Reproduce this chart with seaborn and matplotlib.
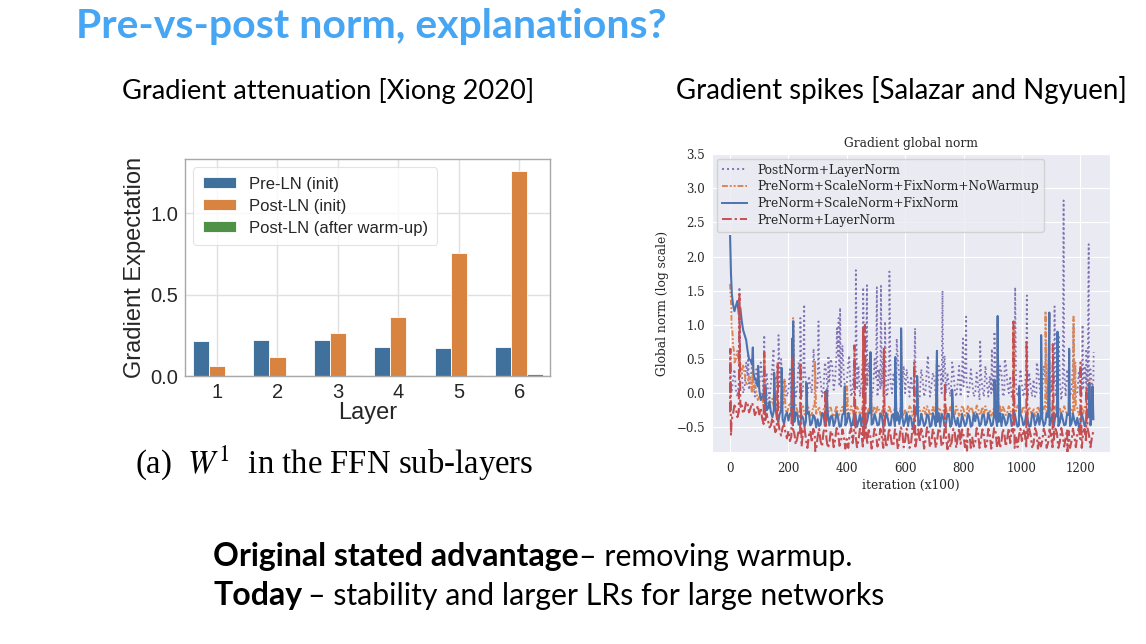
import numpy as np
import pandas as pd
import matplotlib
matplotlib.use("Agg")
import matplotlib.pyplot as plt
import seaborn as sns

# ---------------- Left chart data (Xiong 2020) ----------------
layers = ["1", "2", "3", "4", "5", "6"]
pre_ln_init = [0.217, 0.221, 0.219, 0.180, 0.172, 0.176]
post_ln_init = [0.063, 0.115, 0.264, 0.362, 0.755, 1.262]
post_ln_warm = [0.003, 0.003, 0.005, 0.005, 0.005, 0.014]
bar_series = ["Pre-LN (init)", "Post-LN (init)", "Post-LN (after warm-up)"]
bar_colors = ["#3f719c", "#d8833f", "#4f9146"]

# ---------------- Right chart data (Salazar & Nguyen) ----------------
iter_grid = list(range(0, 1250, 10))   # 0, 10, ..., 1240
mid_grid = list(range(5, 1250, 10))    # 5, 15, ..., 1245

post_ln_base = [
    0.10, 0.20, 0.05, 0.15, 0.30, 0.10, 0.25, 0.20, 0.15, 0.35,
    0.10, 0.25, -0.05, 0.05, 0.15, 0.00, 0.20, 0.10, -0.05, 0.15,
    0.05, -0.05, 0.20, 0.10, 0.30, 0.05, 0.15, 0.25, 0.00, 0.35,
    0.10, 0.20, 0.05, 0.30, 0.15, 0.40, 0.20, 0.55, 0.10, 0.25,
    0.15, 0.35, 0.05, 0.20, 0.40, 0.15, 0.30, 0.10, 0.25, 0.05,
    0.20, 0.35, 0.10, 0.25, 0.00, 0.15, 0.30, 0.05, 0.20, 0.10,
    0.00, 0.15, 0.25, 0.05, 0.10, -0.05, 0.20, 0.05, 0.30, 0.10,
    0.20, 0.05, 0.35, 0.15, 0.00, 0.10, 0.25, 0.05, 0.15, -0.05,
    0.10, 0.20, 0.05, 0.15, 0.00, 0.10, 0.30, -0.05, 0.15, 0.25,
    0.05, 0.20, 0.10, 0.30, 0.00, 0.15, 0.25, 0.05, 0.10, 0.00,
    0.15, 0.05, -0.05, 0.10, 0.20, 0.00, 0.15, 0.05, 0.25, 0.10,
    0.00, 0.15, 0.05, 0.20, 0.10, -0.05, 0.15, 0.05, 0.10, 0.00,
    0.10, 0.05, 0.15, 0.00, 0.10,
]
post_ln_mid = [
    0.00, 0.35, -0.05, 0.40, 0.00, 0.45, 0.05, 0.40, -0.05, 0.10,
    0.45, -0.05, 0.30, -0.10, 0.40, 0.25, -0.05, 0.50, 0.20, -0.05,
    0.35, 0.25, -0.05, 0.45, -0.05, 0.40, -0.05, 0.10, 0.50, 0.05,
    0.35, -0.05, 0.45, -0.05, 0.50, 0.05, 0.60, 0.10, 0.70, 0.05,
    0.45, -0.05, 0.50, 0.05, -0.05, 0.55, 0.00, 0.45, -0.05, 0.50,
    -0.05, 0.05, 0.50, -0.05, 0.45, 0.00, 0.05, 0.50, -0.05, 0.40,
    0.35, -0.05, 0.05, 0.40, -0.10, 0.35, -0.05, 0.40, -0.05, 0.30,
    -0.05, 0.40, 0.00, 0.55, 0.30, -0.05, 0.35, -0.05, 0.40, 0.30,
    0.40, -0.05, 0.35, -0.05, 0.30, -0.10, 0.05, 0.40, -0.05, 0.00,
    0.35, -0.05, 0.40, -0.05, 0.45, 0.00, -0.05, 0.50, -0.05, 0.35,
    -0.05, 0.40, 0.30, -0.05, -0.05, 0.35, -0.10, 0.40, 0.00, 0.45,
    0.40, -0.05, 0.35, -0.10, 0.30, 0.35, -0.05, 0.40, -0.05, 0.30,
    -0.05, 0.40, -0.05, 0.35, 0.15,
]
post_ln_spike_x = [32, 62, 117, 149, 166, 217, 241, 254, 286, 303, 337, 366, 372, 377,
                   408, 431, 456, 469, 503, 517, 531, 546, 571, 634, 678, 728, 761,
                   798, 809, 857, 897, 906, 941, 977, 1017, 1051, 1082, 1112, 1126,
                   1143, 1177, 1208, 1221, 1229, 1246]
post_ln_spike_y = [1.55, 0.55, 0.85, 0.65, 0.85, 1.08, 1.10, 1.30, 0.65, 1.05, 0.55, 0.95, 1.10, 1.25,
                   0.55, 1.80, 1.55, 1.58, 1.55, 1.57, 1.05, 1.78, 0.80, 0.95, 0.55, 1.50, 0.45,
                   0.80, 1.12, 0.78, 0.65, 0.90, 0.50, 1.55, 1.43, 0.45, 0.75, 1.27, 0.85,
                   2.82, 1.00, 1.00, 0.65, 2.18, 0.60]

nowarm_base = [
    1.60, 0.70, 0.50, 0.42, 0.30, 0.28, 0.15, 0.18, 0.05, 0.02,
    -0.05, -0.08, -0.10, -0.15, -0.12, -0.20, -0.17, -0.22, -0.16, -0.24,
    -0.20, -0.27, -0.22, -0.25, -0.30, -0.19, -0.27, -0.23, -0.31, -0.21,
    -0.26, -0.32, -0.24, -0.29, -0.22, -0.30, -0.27, -0.34, -0.25, -0.28,
    -0.23, -0.30, -0.26, -0.33, -0.24, -0.29, -0.21, -0.31, -0.27, -0.25,
    -0.30, -0.24, -0.28, -0.22, -0.32, -0.26, -0.29, -0.23, -0.31, -0.27,
    -0.25, -0.30, -0.22, -0.28, -0.33, -0.24, -0.27, -0.31, -0.23, -0.29,
    -0.26, -0.32, -0.24, -0.28, -0.21, -0.30, -0.27, -0.33, -0.25, -0.29,
    -0.23, -0.31, -0.27, -0.24, -0.30, -0.22, -0.28, -0.32, -0.26, -0.24,
    -0.29, -0.22, -0.27, -0.31, -0.25, -0.28, -0.23, -0.30, -0.26, -0.21,
    -0.28, -0.24, -0.31, -0.26, -0.22, -0.29, -0.25, -0.30, -0.23, -0.27,
    -0.24, -0.30, -0.26, -0.21, -0.28, -0.25, -0.31, -0.23, -0.27, -0.22,
    -0.26, -0.30, -0.24, -0.28, -0.25,
]
nowarm_mid = [
    0.95, 0.45, 0.62, 0.25, 0.42, 0.12, 0.25, 0.00, 0.12, -0.10,
    0.02, -0.18, -0.02, -0.22, -0.08, -0.26, -0.10, -0.28, -0.12, -0.30,
    -0.14, -0.32, -0.17, -0.33, -0.20, -0.31, -0.18, -0.33, -0.19, -0.30,
    -0.20, -0.33, -0.19, -0.31, -0.21, -0.34, -0.18, -0.30, -0.20, -0.33,
    -0.32, -0.19, -0.34, -0.20, -0.31, -0.18, -0.33, -0.21, -0.32, -0.19,
    -0.20, -0.33, -0.19, -0.31, -0.18, -0.34, -0.21, -0.32, -0.20, -0.33,
    -0.32, -0.19, -0.33, -0.20, -0.18, -0.34, -0.21, -0.19, -0.33, -0.20,
    -0.19, -0.21, -0.33, -0.18, -0.34, -0.20, -0.32, -0.19, -0.33, -0.18,
    -0.33, -0.19, -0.20, -0.33, -0.18, -0.32, -0.20, -0.19, -0.34, -0.33,
    -0.20, -0.33, -0.19, -0.20, -0.32, -0.19, -0.33, -0.20, -0.18, -0.32,
    -0.19, -0.33, -0.20, -0.32, -0.34, -0.19, -0.33, -0.20, -0.32, -0.19,
    -0.33, -0.19, -0.20, -0.33, -0.19, -0.32, -0.20, -0.33, -0.19, -0.32,
    -0.19, -0.20, -0.33, -0.19, -0.30,
]
nowarm_spike_x = [4, 8, 14, 33, 78, 117, 177, 186, 216, 291, 401, 456, 481, 586, 641,
                  709, 917, 971, 1081, 1094, 1177, 1183, 1232]
nowarm_spike_y = [1.25, 0.90, 0.60, 0.55, 0.52, 0.58, 0.35, 0.20, 1.10, 0.47, 0.10, 0.95, 0.62, 0.93, 0.25,
                  0.60, 1.10, 0.95, 1.20, 1.18, 1.12, 0.45, 0.20]

scalefix_base = [
    2.30, 1.30, 1.28, 1.15, 1.05, 0.85, 0.62, 0.48, 0.30, 0.18,
    0.05, -0.05, -0.15, -0.22, -0.28, -0.25, -0.35, -0.30, -0.38, -0.32,
    -0.40, -0.33, -0.42, -0.30, -0.45, -0.36, -0.41, -0.28, -0.44, -0.35,
    -0.38, -0.46, -0.31, -0.40, -0.47, -0.33, -0.42, -0.36, -0.48, -0.30,
    -0.43, -0.37, -0.45, -0.32, -0.41, -0.48, -0.35, -0.40, -0.29, -0.44,
    -0.38, -0.46, -0.33, -0.42, -0.36, -0.47, -0.31, -0.40, -0.45, -0.34,
    -0.41, -0.48, -0.36, -0.43, -0.30, -0.46, -0.39, -0.44, -0.33, -0.47,
    -0.37, -0.42, -0.49, -0.35, -0.44, -0.31, -0.45, -0.40, -0.36, -0.48,
    -0.39, -0.44, -0.34, -0.47, -0.41, -0.36, -0.45, -0.32, -0.43, -0.38,
    -0.46, -0.35, -0.42, -0.48, -0.37, -0.43, -0.31, -0.45, -0.40, -0.47,
    -0.36, -0.44, -0.39, -0.48, -0.33, -0.42, -0.46, -0.37, -0.44, -0.35,
    -0.41, -0.47, -0.34, -0.43, -0.38, -0.46, -0.32, -0.44, -0.40, -0.36,
    -0.45, -0.38, -0.42, -0.35, -0.30,
]
scalefix_mid = [
    1.55, 1.20, 1.35, 1.25, 0.92, 0.78, 0.50, 0.42, 0.20, 0.10,
    -0.10, 0.00, -0.25, -0.12, -0.35, -0.20, -0.42, -0.26, -0.45, -0.28,
    -0.30, -0.47, -0.28, -0.46, -0.33, -0.49, -0.30, -0.47, -0.32, -0.50,
    -0.48, -0.29, -0.47, -0.30, -0.34, -0.48, -0.28, -0.49, -0.31, -0.47,
    -0.29, -0.48, -0.30, -0.49, -0.31, -0.33, -0.47, -0.28, -0.46, -0.30,
    -0.47, -0.30, -0.49, -0.29, -0.47, -0.32, -0.48, -0.29, -0.31, -0.48,
    -0.29, -0.33, -0.49, -0.28, -0.47, -0.30, -0.48, -0.31, -0.49, -0.29,
    -0.48, -0.29, -0.31, -0.48, -0.30, -0.49, -0.30, -0.47, -0.49, -0.30,
    -0.48, -0.30, -0.49, -0.29, -0.30, -0.48, -0.31, -0.47, -0.29, -0.48,
    -0.30, -0.48, -0.29, -0.31, -0.47, -0.30, -0.48, -0.29, -0.49, -0.30,
    -0.47, -0.30, -0.49, -0.29, -0.47, -0.30, -0.32, -0.48, -0.29, -0.47,
    -0.30, -0.31, -0.48, -0.29, -0.47, -0.30, -0.48, -0.30, -0.47, -0.49,
    -0.30, -0.48, -0.29, -0.47, -0.38,
]
scalefix_spike_x = [3, 6, 78, 96, 121, 151, 177, 213, 216, 262, 331, 393, 481,
                    566, 586, 641, 709, 761, 906, 917, 991, 1066, 1094, 1122, 1162, 1231, 1242]
scalefix_spike_y = [1.75, 1.45, 0.67, 0.40, 0.10, 0.30, 0.37, 0.80, 1.05, 0.15, 0.05, 0.10, 0.60,
                    0.53, 0.95, 0.25, 0.62, 0.05, 0.20, 1.13, 0.10, 0.85, 1.18, 0.90, 0.65, 0.15, 0.10]

layernorm_base = [
    -0.28, -0.30, -0.22, -0.27, -0.18, -0.24, -0.16, -0.22, -0.20, -0.27,
    -0.31, -0.37, -0.42, -0.40, -0.47, -0.44, -0.52, -0.55, -0.50, -0.58,
    -0.55, -0.63, -0.58, -0.66, -0.60, -0.56, -0.68, -0.62, -0.72, -0.58,
    -0.64, -0.70, -0.57, -0.66, -0.74, -0.60, -0.68, -0.55, -0.71, -0.63,
    -0.67, -0.58, -0.73, -0.62, -0.69, -0.56, -0.66, -0.75, -0.61, -0.68,
    -0.59, -0.71, -0.64, -0.57, -0.70, -0.62, -0.76, -0.60, -0.67, -0.55,
    -0.69, -0.63, -0.74, -0.58, -0.66, -0.71, -0.60, -0.68, -0.56, -0.72,
    -0.62, -0.67, -0.57, -0.73, -0.64, -0.60, -0.70, -0.58, -0.66, -0.74,
    -0.61, -0.69, -0.56, -0.65, -0.72, -0.59, -0.67, -0.62, -0.75, -0.60,
    -0.68, -0.57, -0.64, -0.71, -0.60, -0.66, -0.73, -0.58, -0.65, -0.62,
    -0.70, -0.59, -0.67, -0.61, -0.74, -0.57, -0.65, -0.69, -0.60, -0.72,
    -0.63, -0.68, -0.58, -0.71, -0.62, -0.66, -0.55, -0.70, -0.64, -0.60,
    -0.67, -0.58, -0.72, -0.61, -0.65,
]
layernorm_mid = [
    -0.40, -0.18, -0.35, -0.15, -0.30, -0.12, -0.28, -0.14, -0.32, -0.18,
    -0.22, -0.45, -0.30, -0.50, -0.36, -0.57, -0.42, -0.62, -0.46, -0.66,
    -0.70, -0.52, -0.75, -0.54, -0.78, -0.50, -0.80, -0.55, -0.52, -0.82,
    -0.52, -0.78, -0.50, -0.80, -0.55, -0.79, -0.51, -0.77, -0.53, -0.81,
    -0.80, -0.51, -0.53, -0.79, -0.52, -0.78, -0.50, -0.54, -0.81, -0.52,
    -0.78, -0.52, -0.80, -0.79, -0.51, -0.77, -0.53, -0.82, -0.50, -0.79,
    -0.52, -0.80, -0.51, -0.78, -0.53, -0.52, -0.81, -0.50, -0.79, -0.52,
    -0.80, -0.51, -0.78, -0.52, -0.82, -0.79, -0.52, -0.80, -0.51, -0.53,
    -0.79, -0.52, -0.80, -0.78, -0.51, -0.80, -0.53, -0.79, -0.52, -0.81,
    -0.51, -0.79, -0.80, -0.52, -0.78, -0.51, -0.53, -0.80, -0.79, -0.52,
    -0.53, -0.80, -0.52, -0.79, -0.51, -0.81, -0.78, -0.52, -0.80, -0.53,
    -0.79, -0.52, -0.80, -0.51, -0.78, -0.53, -0.80, -0.52, -0.79, -0.51,
    -0.80, -0.52, -0.51, -0.79, -0.55,
]
layernorm_spike_x = [1, 3, 32, 36, 117, 163, 213, 241, 292, 326, 426, 456, 462, 527, 631,
                     736, 812, 971, 1016, 1106, 1156, 1201, 1221]
layernorm_spike_y = [0.65, -0.62, 1.45, -0.20, 0.60, 0.45, 0.50, 0.45, -0.85, 0.05, 0.70, 0.97, 1.00, 0.65, 0.45,
                     0.15, -0.84, 1.05, 0.75, 0.72, -0.86, 0.45, 0.10]

line_names = ["PostNorm+LayerNorm", "PreNorm+ScaleNorm+FixNorm+NoWarmup",
              "PreNorm+ScaleNorm+FixNorm", "PreNorm+LayerNorm"]
line_colors = ["#8172b3", "#dd8452", "#4c72b0", "#c44e52"]
line_styles = [(0, (1, 1.6)), (0, (3, 1, 1, 1, 1, 1)), "-", (0, (5, 1.5, 1.2, 1.5))]
line_widths = [1.3, 1.4, 1.5, 1.5]


def series_frame(base, mid, sx, sy):
    df = pd.DataFrame({"iteration": list(iter_grid) + list(mid_grid) + list(sx),
                       "value": list(base) + list(mid) + list(sy)})
    return df.sort_values("iteration").reset_index(drop=True)


series = [series_frame(post_ln_base, post_ln_mid, post_ln_spike_x, post_ln_spike_y),
          series_frame(nowarm_base, nowarm_mid, nowarm_spike_x, nowarm_spike_y),
          series_frame(scalefix_base, scalefix_mid, scalefix_spike_x, scalefix_spike_y),
          series_frame(layernorm_base, layernorm_mid, layernorm_spike_x, layernorm_spike_y)]

# ---------------- Figure ----------------
W, H = 1146, 644
fig = plt.figure(figsize=(W / 100, H / 100), dpi=100)
fig.patch.set_facecolor("white")

SLIDE = "Lato"
TITLE_BLUE = "#47a6f4"

fig.text(76 / W, 1 - 38 / H, "Pre-vs-post norm, explanations?", family=SLIDE,
         weight="bold", fontsize=29.5, color=TITLE_BLUE, ha="left", va="baseline")
fig.text(122 / W, 1 - 99 / H, "Gradient attenuation [Xiong 2020]", family=SLIDE,
         fontsize=19.6, color="black", ha="left", va="baseline")
fig.text(676 / W, 1 - 99 / H, "Gradient spikes [Salazar and Ngyuen]", family=SLIDE,
         fontsize=19.9, color="black", ha="left", va="baseline")

# ---- Left bar chart
bar_df = pd.DataFrame({
    "Layer": layers * 3,
    "value": pre_ln_init + post_ln_init + post_ln_warm,
    "series": [bar_series[0]] * 6 + [bar_series[1]] * 6 + [bar_series[2]] * 6,
})
with sns.axes_style("whitegrid"):
    ax1 = fig.add_axes([185 / W, 1 - 376 / H, (550 - 185) / W, (376 - 159) / H])
sns.barplot(data=bar_df, x="Layer", y="value", hue="series", order=layers,
            hue_order=bar_series, palette=bar_colors, saturation=1, ax=ax1,
            edgecolor="white", linewidth=0.6)
ax1.set_ylim(0, 1.335)
ax1.set_xlim(-0.53, 5.51)
ax1.set_yticks([0, 0.5, 1.0])
ax1.set_yticklabels(["0.0", "0.5", "1.0"])
LF = "Liberation Sans"
for lab in ax1.get_xticklabels() + ax1.get_yticklabels():
    lab.set_fontfamily(LF)
    lab.set_fontsize(14.5)
    lab.set_color("#262626")
ax1.tick_params(axis="both", length=0, pad=5)
ax1.set_xlabel("Layer", family=LF, fontsize=17, color="#262626", labelpad=0)
ax1.set_ylabel("Gradient Expectation", family=LF, fontsize=17, color="#262626", labelpad=3)
for s in ax1.spines.values():
    s.set_color("#a8a8a8")
    s.set_linewidth(1.0)
ax1.grid(True, color="#e0e0e0", linewidth=1.0)
ax1.set_axisbelow(True)
leg1 = ax1.legend(loc="upper left", prop={"family": LF, "size": 12}, frameon=True,
                  handlelength=2.0, handleheight=0.6, handletextpad=0.8,
                  labelspacing=0.42, borderpad=0.55, borderaxespad=0.5, fancybox=True)
leg1.get_frame().set_edgecolor("#dddddd")
leg1.get_frame().set_linewidth(0.8)
for t in leg1.get_texts():
    t.set_color("#262626")

fig.text(135 / W, 1 - 473 / H, r"(a)  $W^1$  in the FFN sub-layers",
         family="Liberation Serif", fontsize=23.6, color="black", ha="left", va="baseline",
         math_fontfamily="stix")

# ---- Right line chart
SF = "DejaVu Serif"
with sns.axes_style("darkgrid"):
    ax2 = fig.add_axes([712 / W, 1 - 452 / H, (1110 - 712) / W, (452 - 154) / H])
for df, name, c, ls, lw in zip(series, line_names, line_colors, line_styles, line_widths):
    sns.lineplot(data=df, x="iteration", y="value", ax=ax2, color=c, linestyle=ls,
                 linewidth=lw, label=name, estimator=None, sort=True)
ax2.set_xlim(-62, 1302)
ax2.set_ylim(-0.86, 3.5)
ax2.set_xticks([0, 200, 400, 600, 800, 1000, 1200])
ax2.set_yticks([-0.5, 0.0, 0.5, 1.0, 1.5, 2.0, 2.5, 3.0, 3.5])
for lab in ax2.get_xticklabels() + ax2.get_yticklabels():
    lab.set_fontfamily(SF)
    lab.set_fontsize(8.5)
    lab.set_color("#262626")
ax2.tick_params(axis="both", length=0, pad=5)
ax2.tick_params(axis="x", pad=7)
ax2.set_xlabel("iteration (x100)", family=SF, fontsize=8.8, color="#262626", labelpad=3)
ax2.set_ylabel("Global norm (log scale)", family=SF, fontsize=8.8, color="#262626", labelpad=5)
ax2.set_title("Gradient global norm", family=SF, fontsize=8.8, color="#262626", pad=5)
leg2 = ax2.legend(loc="upper left", prop={"family": SF, "size": 8.8}, frameon=True,
                  handlelength=2.1, labelspacing=0.3, borderpad=0.4, borderaxespad=0.4,
                  fancybox=True, facecolor="#eaeaf2", framealpha=0.8)
leg2.get_frame().set_edgecolor("#cccccc")
for t in leg2.get_texts():
    t.set_color("#262626")
for h in leg2.get_lines():
    h.set_linewidth(1.4)

# ---- Footer text
BOLD_SZ, REG_SZ = 23, 21.8
t1 = fig.text(213 / W, 1 - 566 / H, "Original stated advantage", family=SLIDE,
              weight="bold", fontsize=BOLD_SZ, color="black", ha="left", va="baseline")
t2 = fig.text(213 / W, 1 - 605 / H, "Today", family=SLIDE, weight="bold",
              fontsize=BOLD_SZ, color="black", ha="left", va="baseline")
fig.canvas.draw()
r = fig.canvas.get_renderer()
inv = fig.transFigure.inverted()
bb1 = inv.transform(t1.get_window_extent(r))
bb2 = inv.transform(t2.get_window_extent(r))
fig.text(bb1[1][0], 1 - 566 / H, "\u2013 removing warmup.", family=SLIDE,
         fontsize=REG_SZ, color="black", ha="left", va="baseline")
fig.text(bb2[1][0] + 6 / W, 1 - 605 / H, "\u2013 stability and larger LRs for large networks",
         family=SLIDE, fontsize=REG_SZ, color="black", ha="left", va="baseline")

fig.savefig("out.png", dpi=100, facecolor="white")
